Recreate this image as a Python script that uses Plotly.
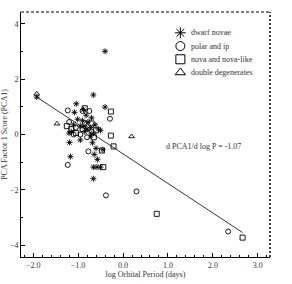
import plotly.graph_objects as go

# Data
dn_x = [-0.40, -0.66, -0.40, -1.04, -1.92, -1.19, -1.17, -0.66, -0.64, -0.57, -0.66, -0.58, -0.50,
        -1.08, -1.01, -0.95, -0.88, -0.82, -0.78, -0.72, -0.70, -0.66, -0.62, -0.55, -0.50, -0.85,
        -0.90, -1.10, -1.15, -0.72, -0.68, -0.60, -0.45, -0.95, -0.80, -1.20, -0.87]
dn_y = [3.01, 1.43, 0.99, 1.11, 1.35, -0.29, -0.80, -1.60, -0.72, -0.90, -1.18, -1.18, -1.18,
        0.80, 0.55, 0.30, 0.90, 0.70, 0.45, 0.25, 0.60, 0.05, 0.35, 0.20, 0.15, 0.10,
        0.50, 0.35, 0.10, -0.05, -0.30, -0.50, -0.55, -0.20, 0.20, 0.05, 0.30]

pol_x = [-0.38, 0.30, -1.23, -1.23, -0.77, 2.34, -0.29, -1.10, -0.90, -0.75, -0.85, -1.20, -0.70, -1.05, -0.95, -0.80]
pol_y = [-2.20, -2.06, -1.10, 0.87, -0.61, -3.51, 0.57, 0.00, 0.85, 0.85, 0.40, 0.45, 0.10, 0.25, 0.00, -0.10]

nl_x = [-0.27, -0.27, -0.21, 0.75, 2.66, -0.44, -0.47, -1.25, -1.15, -0.85, -0.70, -0.65, -1.05, -0.90, -0.60]
nl_y = [0.83, -0.04, -0.43, -2.87, -3.73, -1.18, -0.58, 0.30, 0.20, 0.95, 0.40, -0.10, 0.05, 0.20, 0.15]

dd_x = [-1.92, -1.47, 0.19]
dd_y = [1.47, 0.39, -0.07]

series_names = ["dwarf novae", "polar and ip", "nova and nova-like", "double degenerates"]
series_symbols = ["asterisk-open", "circle-open", "square-open", "triangle-up-open"]

fit_slope = -1.07
fit_intercept = -0.70
fit_x = [-1.92, 2.66]
fit_y = [fit_intercept + fit_slope * v for v in fit_x]

FONT = "Liberation Serif"
TXT = "#333"

fig = go.Figure()
for (xs, ys, nm, sym) in zip([dn_x, pol_x, nl_x, dd_x], [dn_y, pol_y, nl_y, dd_y],
                             series_names, series_symbols):
    fig.add_trace(go.Scatter(x=xs, y=ys, mode="markers", name=nm, showlegend=False,
                             marker=dict(symbol=sym, size=5, color="black",
                                         line=dict(color="black", width=0.9))))
fig.add_trace(go.Scatter(x=fit_x, y=fit_y, mode="lines", showlegend=False,
                         line=dict(color="black", width=0.8)))

# Legend key (drawn on an overlay axis spanning the plot area, 0..1)
leg_x0, leg_y0, leg_dy = 0.64, 0.915, 0.054
for i, (nm, sym) in enumerate(zip(series_names, series_symbols)):
    yy = leg_y0 - i * leg_dy
    fig.add_trace(go.Scatter(x=[leg_x0], y=[yy], xaxis="x2", yaxis="y2", mode="markers",
                             showlegend=False, hoverinfo="skip",
                             marker=dict(symbol=sym, size=9, color="black",
                                         line=dict(color="black", width=1))))
    fig.add_annotation(xref="paper", yref="paper", x=leg_x0 + 0.033, y=yy, text=nm,
                       showarrow=False, xanchor="left", yanchor="middle",
                       font=dict(family=FONT, size=8, color=TXT))

fig.add_annotation(x=1.8, y=-0.43, text="d PCA1/d log P = -1.07", showarrow=False,
                   font=dict(family=FONT, size=8, color=TXT))

# dashed top and dotted right frame
fig.add_shape(type="line", xref="paper", yref="paper", x0=0, x1=1, y0=1, y1=1,
              line=dict(color="black", width=1, dash="3px,2px"))
fig.add_shape(type="line", xref="paper", yref="paper", x0=1, x1=1, y0=0, y1=1,
              line=dict(color="black", width=1.5, dash="2px,2px"))

fig.update_layout(
    width=292, height=284,
    margin=dict(l=21, r=22, t=12, b=27),
    paper_bgcolor="white", plot_bgcolor="white",
    font=dict(family=FONT, size=8, color=TXT),
    showlegend=False,
    xaxis=dict(range=[-2.27, 3.27], dtick=1, tick0=0, tickformat=".1f", automargin=False,
               showgrid=False, zeroline=False, showline=True, linecolor="black", linewidth=1,
               ticks="inside", ticklen=4, tickcolor="black",
               minor=dict(dtick=0.2, ticks="inside", ticklen=2, tickcolor="black"),
               title=dict(text="log Orbital Period (days)", font=dict(size=8), standoff=1),
               tickfont=dict(size=8)),
    yaxis=dict(range=[-4.43, 4.43], dtick=2, tick0=0, automargin=False,
               showgrid=False, zeroline=False, showline=True, linecolor="black", linewidth=1,
               ticks="inside", ticklen=4, tickcolor="black",
               minor=dict(dtick=1, ticks="inside", ticklen=2, tickcolor="black"),
               title=dict(text="PCA Factor 1 Score (PCA1)", font=dict(size=8), standoff=1),
               tickfont=dict(size=8)),
    xaxis2=dict(overlaying="x", range=[0, 1], visible=False, anchor="y2"),
    yaxis2=dict(overlaying="y", range=[0, 1], visible=False, anchor="x2"),
)

fig.write_html("out.html", config={"displayModeBar": False},
               post_script="document.body.style.margin='0';document.body.style.overflow='hidden';")
